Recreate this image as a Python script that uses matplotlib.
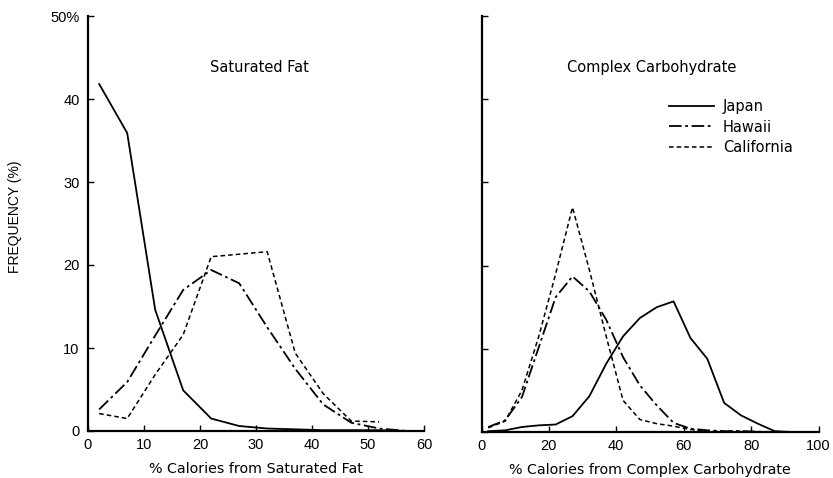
import matplotlib
matplotlib.use("Agg")
import matplotlib.pyplot as plt

plt.rcParams['font.family'] = ['Liberation Sans', 'DejaVu Sans']

# Data (midpoints of 5% calorie bins)
fat_x = [2, 7, 12, 17, 22, 27, 32, 37, 42, 47, 52, 57]
fat_japan = [41.8, 35.9, 14.6, 4.9, 1.5, 0.6, 0.3, 0.2, 0.1, 0.1, 0.1, 0.0]
fat_hawaii = [2.6, 5.9, 11.5, 17.0, 19.4, 17.8, 12.5, 7.5, 3.2, 1.0, 0.3, 0.0]
fat_calif_x = [2, 7, 12, 17, 22, 27, 32, 37, 42, 47, 52]
fat_calif = [2.1, 1.5, 6.8, 11.6, 21.0, 21.3, 21.6, 9.4, 4.5, 1.2, 1.1]

carb_x = [2, 7, 12, 17, 22, 27, 32, 37, 42, 47, 52, 57, 62, 67, 72, 77, 82, 87, 92, 97]
carb_japan = [0.1, 0.2, 0.6, 0.8, 0.9, 1.9, 4.3, 8.2, 11.5, 13.7, 15.0, 15.7, 11.3, 8.8, 3.5, 2.0, 1.0, 0.1, 0.0, 0.0]
carb_hawaii = [0.6, 1.4, 4.2, 10.2, 16.2, 18.7, 16.9, 13.5, 9.0, 5.6, 3.2, 1.1, 0.4, 0.2, 0.1, 0.1, 0.05, 0.0, 0.0, 0.0]
carb_calif = [0.5, 1.3, 5.0, 11.5, 19.0, 27.0, 19.5, 11.5, 3.8, 1.5, 1.0, 0.7, 0.3, 0.1, 0.1, 0.1, 0.0, 0.0, 0.0, 0.0]

series_names = ["Japan", "Hawaii", "California"]
fat_ticks = [0, 10, 20, 30, 40, 50, 60]
carb_ticks = [0, 20, 40, 60, 80, 100]
y_ticks = [0, 10, 20, 30, 40, 50]
y_ticklabels = ["0", "10", "20", "30", "40", "50%"]

W, H = 833, 478
fig = plt.figure(figsize=(W / 100, H / 100), dpi=100)

ax1 = fig.add_axes([88 / W, 47 / H, 336 / W, 415 / H])
ax2 = fig.add_axes([481.5 / W, 46 / H, 337 / W, 416 / H])

styles = {
    "Japan": dict(linestyle='-', linewidth=1.3),
    "Hawaii": dict(linestyle=(0, (7, 2, 1.5, 2)), linewidth=1.3),
    "California": dict(linestyle=(0, (3, 2)), linewidth=1.1),
}

ax1.plot(fat_x, fat_japan, color='black', **styles["Japan"])
ax1.plot(fat_x, fat_hawaii, color='black', **styles["Hawaii"])
ax1.plot(fat_calif_x, fat_calif, color='black', **styles["California"])

l1, = ax2.plot(carb_x, carb_japan, color='black', **styles["Japan"])
l2, = ax2.plot(carb_x, carb_hawaii, color='black', **styles["Hawaii"])
l3, = ax2.plot(carb_x, carb_calif, color='black', **styles["California"])

for ax, xt, xmax in ((ax1, fat_ticks, 60), (ax2, carb_ticks, 100)):
    ax.set_xlim(0, xmax)
    ax.set_ylim(0, 50)
    ax.spines['top'].set_visible(False)
    ax.spines['right'].set_visible(False)
    ax.spines['left'].set_linewidth(1.6)
    ax.spines['bottom'].set_linewidth(1.6)
    ax.set_xticks(xt)
    ax.set_yticks(y_ticks)
    ax.tick_params(axis='both', direction='in', length=4, width=1.0,
                   labelsize=10.5, colors='black')
    ax.tick_params(axis='x', pad=5)
    ax.tick_params(axis='y', pad=6)

ax1.set_yticklabels(y_ticklabels)
ax2.set_yticklabels([])

wide = ['DejaVu Sans']
ax1.set_xlabel("% Calories from Saturated Fat", fontsize=10.3, labelpad=7, family=wide)
ax2.set_xlabel("% Calories from Complex Carbohydrate", fontsize=10.3, labelpad=7, family=wide)
fig.text(15 / W, 1 - 217 / H, "FREQUENCY (%)", rotation=90, fontsize=10,
         ha='center', va='center')

fig.text(259 / W, 1 - 67 / H, "Saturated Fat", fontsize=10.5, ha='center', va='center', family=wide)
fig.text(652 / W, 1 - 67 / H, "Complex Carbohydrate", fontsize=10.5, ha='center', va='center', family=wide)

fig.legend([l1, l2, l3], series_names, loc='upper left',
           bbox_to_anchor=(669 / W, 1 - 99 / H), frameon=False,
           prop={'family': wide, 'size': 10.5}, handlelength=3.1, handletextpad=0.6,
           labelspacing=0.38, borderpad=0, borderaxespad=0)

fig.savefig("out.png", dpi=100)
